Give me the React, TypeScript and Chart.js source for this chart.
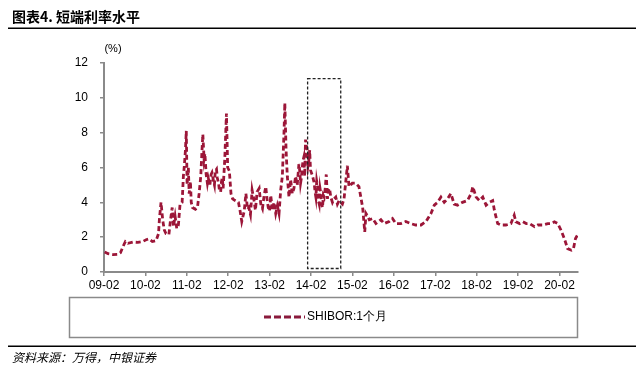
import React, { useEffect, useRef } from "react";
import { Chart, registerables } from "chart.js";

Chart.register(...registerables);

// Time in decimal years
const times: number[] = [
  2009.10, 2009.18, 2009.30, 2009.42, 2009.48, 2009.56, 2009.60, 2009.66, 2009.78, 2009.90,
  2010.02, 2010.10, 2010.17, 2010.25, 2010.34, 2010.40, 2010.42, 2010.46, 2010.50, 2010.54,
  2010.58, 2010.65, 2010.69, 2010.73, 2010.76, 2010.80, 2010.84, 2010.88, 2010.92, 2010.97,
  2011.00, 2011.02, 2011.05, 2011.07, 2011.09, 2011.12, 2011.14, 2011.17, 2011.19, 2011.22,
  2011.29, 2011.34, 2011.38, 2011.42, 2011.45, 2011.47, 2011.50, 2011.52, 2011.55, 2011.58,
  2011.60, 2011.64, 2011.67, 2011.69, 2011.73, 2011.75, 2011.77, 2011.80, 2011.82, 2011.85,
  2011.87, 2011.90, 2011.92, 2011.94, 2011.96, 2012.00, 2012.04, 2012.07, 2012.11, 2012.15,
  2012.19, 2012.25, 2012.33, 2012.37, 2012.41, 2012.47, 2012.51, 2012.55, 2012.58, 2012.62,
  2012.66, 2012.70, 2012.74, 2012.78, 2012.83, 2012.87, 2012.91, 2012.95, 2012.99, 2013.02,
  2013.05, 2013.08, 2013.11, 2013.15, 2013.19, 2013.23, 2013.27, 2013.31, 2013.35, 2013.39,
  2013.43, 2013.45, 2013.48, 2013.51, 2013.55, 2013.59, 2013.63, 2013.67, 2013.71, 2013.75,
  2013.79, 2013.81, 2013.83, 2013.85, 2013.87, 2013.89, 2013.91, 2013.93, 2013.95, 2013.97,
  2013.99, 2014.01, 2014.03, 2014.05, 2014.07, 2014.12, 2014.16, 2014.18, 2014.20, 2014.22,
  2014.24, 2014.26, 2014.28, 2014.30, 2014.32, 2014.34, 2014.36, 2014.38, 2014.40, 2014.43,
  2014.45, 2014.48, 2014.50, 2014.53, 2014.56, 2014.60, 2014.64, 2014.68, 2014.72, 2014.76,
  2014.80, 2014.84, 2014.88, 2014.96, 2015.00, 2015.08, 2015.16, 2015.24, 2015.33, 2015.38,
  2015.41, 2015.45, 2015.49, 2015.57, 2015.65, 2015.77, 2015.85, 2015.97, 2016.05, 2016.13,
  2016.25, 2016.37, 2016.49, 2016.61, 2016.74, 2016.86, 2016.98, 2017.06, 2017.14, 2017.22,
  2017.30, 2017.38, 2017.46, 2017.54, 2017.62, 2017.74, 2017.86, 2017.95, 2017.99, 2018.07,
  2018.15, 2018.23, 2018.31, 2018.39, 2018.47, 2018.51, 2018.59, 2018.67, 2018.79, 2018.91,
  2018.99, 2019.03, 2019.12, 2019.20, 2019.28, 2019.36, 2019.48, 2019.56, 2019.68, 2019.80,
  2019.88, 2019.96, 2020.04, 2020.12, 2020.20, 2020.28, 2020.37, 2020.42, 2020.47, 2020.53,
];

// SHIBOR 1M (%)
const shibor1m: number[] = [
  1.15, 1.05, 1.00, 1.02, 1.10, 1.55, 1.75, 1.65, 1.72, 1.70,
  1.75, 1.85, 1.90, 1.75, 1.80, 2.20, 3.00, 4.00, 3.00, 2.40,
  2.20, 2.15, 3.00, 3.70, 2.60, 3.20, 2.50, 2.70, 3.90, 4.00,
  5.50, 6.00, 7.00, 8.10, 5.00, 6.00, 4.50, 5.20, 4.00, 3.70,
  3.60, 3.70, 4.50, 5.50, 7.00, 7.90, 6.50, 6.80, 5.60, 5.10,
  5.40, 5.00, 5.60, 5.70, 5.20, 5.00, 5.80, 5.90, 5.40, 5.10,
  4.70, 4.60, 5.20, 5.40, 4.80, 6.50, 9.10, 6.00, 5.80, 4.50,
  4.20, 4.10, 4.00, 3.50, 2.90, 3.50, 4.50, 3.60, 3.70, 3.30,
  4.70, 4.20, 3.55, 4.60, 4.80, 3.90, 3.65, 4.40, 4.90, 4.20,
  3.70, 3.50, 4.40, 3.55, 4.00, 3.36, 3.80, 3.36, 4.70, 5.50,
  8.00, 9.70, 7.00, 5.50, 4.30, 5.30, 4.50, 4.80, 5.50, 5.00,
  6.20, 5.80, 5.10, 5.40, 6.00, 6.40, 6.60, 5.50, 7.60, 7.30,
  7.00, 6.10, 6.40, 7.00, 5.85, 5.50, 5.10, 4.60, 4.30, 5.20,
  4.90, 4.10, 3.90, 4.80, 4.50, 3.90, 3.70, 4.40, 4.30, 4.90,
  5.60, 4.20, 4.70, 4.80, 4.30, 4.00, 4.20, 4.30, 3.90, 4.10,
  4.00, 3.90, 4.20, 6.10, 4.90, 5.10, 5.10, 4.90, 3.70, 2.30,
  3.36, 3.20, 3.00, 3.07, 2.78, 3.00, 2.78, 2.90, 3.07, 2.78,
  2.78, 2.90, 2.78, 2.70, 2.70, 2.90, 3.36, 3.84, 4.00, 4.30,
  4.00, 4.20, 4.50, 3.90, 3.84, 4.00, 4.10, 4.50, 4.90, 4.30,
  4.10, 4.30, 3.84, 4.00, 4.10, 3.55, 2.78, 2.70, 2.70, 2.78,
  3.26, 2.88, 2.78, 2.88, 2.78, 2.78, 2.60, 2.70, 2.70, 2.78,
  2.78, 2.88, 2.78, 2.40, 1.92, 1.34, 1.25, 1.34, 1.92, 2.17,
];

const tickValues: number[] = [
  2009.083, 2010.083, 2011.083, 2012.083, 2013.083, 2014.083,
  2015.083, 2016.083, 2017.083, 2018.083, 2019.083, 2020.083,
];
const tickLabels: string[] = [
  "09-02", "10-02", "11-02", "12-02", "13-02", "14-02",
  "15-02", "16-02", "17-02", "18-02", "19-02", "20-02",
];

// Highlight box (x in years, y in %)
const boxX: number[] = [2014.0, 2014.8];
const boxY: number[] = [0.2, 11.1];

const titleText = "图表4. 短端利率水平";
const seriesName = "SHIBOR:1个月";
const sourceText = "资料来源：万得，中银证券";
const unitText = "(%)";

const LINE_COLOR = "#9c1638";
const AXIS_COLOR = "#8a8a8a";

const decorPlugin = {
  id: "decor",
  afterDraw(chart: any) {
    const ctx = chart.ctx as CanvasRenderingContext2D;
    const xs = chart.scales.x;
    const ys = chart.scales.y;
    ctx.save();

    // highlight box
    const bx0 = xs.getPixelForValue(boxX[0]);
    const bx1 = xs.getPixelForValue(boxX[1]);
    const by0 = ys.getPixelForValue(boxY[1]);
    const by1 = ys.getPixelForValue(boxY[0]);
    ctx.strokeStyle = "#222";
    ctx.lineWidth = 1.3;
    ctx.setLineDash([3, 2]);
    ctx.strokeRect(bx0, by0, bx1 - bx0, by1 - by0);
    ctx.setLineDash([]);

    // unit label
    ctx.fillStyle = "#000";
    ctx.font = "11px 'Liberation Sans', Arial, sans-serif";
    ctx.textAlign = "center";
    ctx.textBaseline = "middle";
    ctx.fillText(unitText, chart.chartArea.left + 9, chart.chartArea.top - 14);

    // title
    ctx.textAlign = "left";
    ctx.font = "bold 14px 'Noto Sans CJK SC', sans-serif";
    ctx.fillText(titleText, 12, 17);
    ctx.fillStyle = "#000";
    ctx.fillRect(8, 27.5, 628, 1.5);

    // legend box
    ctx.strokeStyle = AXIS_COLOR;
    ctx.lineWidth = 1.5;
    ctx.strokeRect(69.5, 297.5, 508, 40);
    // legend sample
    ctx.strokeStyle = "#8a1a3c";
    ctx.lineWidth = 3;
    ctx.setLineDash([7, 3]);
    ctx.beginPath();
    ctx.moveTo(264, 317);
    ctx.lineTo(305, 317);
    ctx.stroke();
    ctx.setLineDash([]);
    ctx.fillStyle = "#000";
    ctx.font = "12px 'Liberation Sans', Arial, sans-serif";
    ctx.textBaseline = "middle";
    ctx.fillText(seriesName, 307, 317);

    // footer
    ctx.fillRect(8, 345.5, 628, 1.5);
    ctx.font = "italic 12px 'Noto Sans CJK SC', sans-serif";
    ctx.fillText(sourceText, 12, 357);

    ctx.restore();
  },
};

export default function App() {
  const ref = useRef<HTMLCanvasElement | null>(null);
  useEffect(() => {
    if (!ref.current) return;
    const data = times.map((t, i) => ({ x: t, y: shibor1m[i] }));
    const chart = new Chart(ref.current, {
      type: "line",
      data: {
        datasets: [
          {
            label: seriesName,
            data,
            borderColor: LINE_COLOR,
            borderWidth: 2.8,
            borderDash: [5, 3],
            pointRadius: 0,
            tension: 0,
            fill: false,
          },
        ],
      },
      options: {
        animation: false,
        responsive: false,
        events: [],
        layout: { padding: { left: 0, right: 60, top: 63, bottom: 65 } },
        plugins: { legend: { display: false }, tooltip: { enabled: false } },
        scales: {
          x: {
            type: "linear",
            min: 2009.083,
            max: 2020.53,
            afterBuildTicks: (scale: any) => {
              scale.ticks = tickValues.map((v) => ({ value: v }));
            },
            afterFit: (scale: any) => {
              scale.height = 30;
            },
            ticks: {
              autoSkip: false,
              maxRotation: 0,
              padding: 2,
              color: "#000",
              font: { size: 12, family: "'Liberation Sans', Arial, sans-serif" },
              callback: (v: any) => {
                const i = tickValues.findIndex((t) => Math.abs(t - Number(v)) < 1e-6);
                return i >= 0 ? tickLabels[i] : "";
              },
            },
            grid: {
              display: true,
              drawOnChartArea: false,
              drawTicks: true,
              tickLength: 4,
              color: AXIS_COLOR,
              lineWidth: 1.5,
            },
            border: { display: true, color: AXIS_COLOR, width: 2 },
          },
          y: {
            min: 0,
            max: 12,
            afterFit: (scale: any) => {
              scale.width = 104;
            },
            ticks: {
              stepSize: 2,
              padding: 12,
              color: "#000",
              font: { size: 12, family: "'Liberation Sans', Arial, sans-serif" },
            },
            grid: {
              display: true,
              drawOnChartArea: false,
              drawTicks: true,
              tickLength: 4,
              color: AXIS_COLOR,
              lineWidth: 1.5,
            },
            border: { display: true, color: AXIS_COLOR, width: 2 },
          },
        },
      },
      plugins: [decorPlugin],
    });
    return () => chart.destroy();
  }, []);
  return (
    <div style={{ position: "absolute", left: 0, top: 0, width: 638, height: 367, background: "#fff" }}>
      <canvas ref={ref} width={638} height={367} style={{ display: "block", width: 638, height: 367 }} />
    </div>
  );
}
